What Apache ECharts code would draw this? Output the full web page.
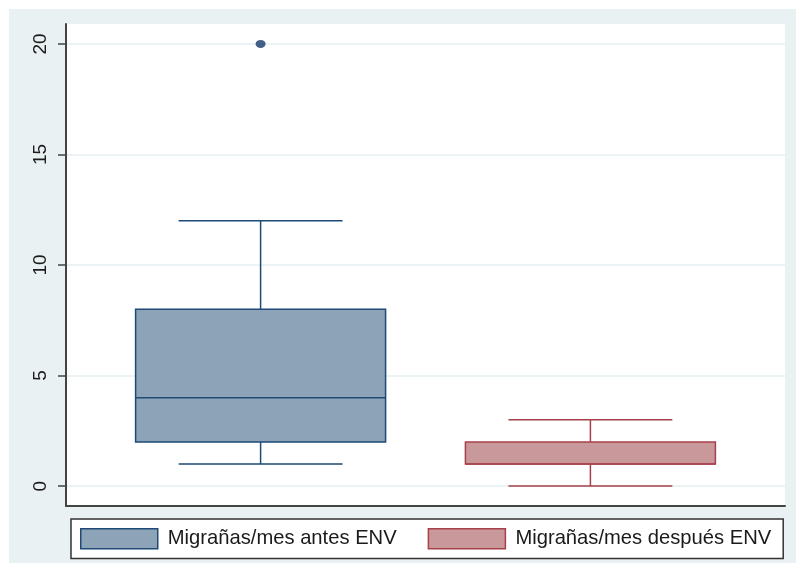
<!DOCTYPE html>
<html>
<head>
<meta charset="utf-8">
<script src="https://cdn.jsdelivr.net/npm/echarts@6/dist/echarts.min.js"></script>
<style>
	html, body { margin: 0; padding: 0; background: #fff; }
	#wrap { position: relative; width: 796px; height: 565px; background: #fff; }
	#main { position: absolute; left: 9px; top: 9px; width: 787px; height: 554px; }
</style>
</head>
<body>
<div id="wrap"><div id="main"></div></div>
<script>
	// datos
	var categories = ['Migrañas/mes antes ENV', 'Migrañas/mes después ENV'];
	var lowWhisker = [1, 0];
	var q1 = [2, 1];
	var median = [4, 1];
	var q3 = [8, 2];
	var highWhisker = [12, 3];
	var outliers = [[0, 20]];
	var yTicks = [0, 5, 10, 15, 20];

	var fills = ['#8ca3b8', '#c9989b'];
	var borders = ['#1f4a76', '#a6414c'];

	var myChart = echarts.init(document.getElementById('main'));

	function renderBox(params, api) {
		var x = api.value(0);
		var low = api.coord([x, api.value(1)]);
		var p1 = api.coord([x, api.value(2)]);
		var med = api.coord([x, api.value(3)]);
		var p3 = api.coord([x, api.value(4)]);
		var high = api.coord([x, api.value(5)]);
		var boxW = api.size([0.758, 0])[0];
		var capW = api.size([0.497, 0])[0];
		var color = borders[params.seriesIndex];
		var fill = fills[params.seriesIndex];
		var lineStyle = { stroke: color, lineWidth: 1.5, fill: null };
		return {
			type: 'group',
			children: [
				{ type: 'line', shape: { x1: high[0], y1: high[1], x2: p3[0], y2: p3[1] }, style: lineStyle },
				{ type: 'line', shape: { x1: low[0], y1: low[1], x2: p1[0], y2: p1[1] }, style: lineStyle },
				{ type: 'line', shape: { x1: high[0] - capW / 2, y1: high[1], x2: high[0] + capW / 2, y2: high[1] }, style: lineStyle },
				{ type: 'line', shape: { x1: low[0] - capW / 2, y1: low[1], x2: low[0] + capW / 2, y2: low[1] }, style: lineStyle },
				{ type: 'rect', shape: { x: p3[0] - boxW / 2, y: p3[1], width: boxW, height: p1[1] - p3[1] },
					style: { fill: fill, stroke: color, lineWidth: 1.5 } },
				{ type: 'line', shape: { x1: med[0] - boxW / 2, y1: med[1], x2: med[0] + boxW / 2, y2: med[1] }, style: lineStyle }
			]
		};
	}

	var series = categories.map(function(name, i) {
		return {
			name: name,
			type: 'custom',
			renderItem: renderBox,
			itemStyle: { color: fills[i], borderColor: borders[i] },
			data: [[i, lowWhisker[i], q1[i], median[i], q3[i], highWhisker[i]]],
			z: 3
		};
	});
	series.push({
		name: 'outliers',
		type: 'scatter',
		symbol: 'circle',
		symbolSize: [10, 8],
		itemStyle: { color: '#173a69' },
		data: outliers,
		z: 4
	});

	var option = {
		backgroundColor: '#e9f1f3',
		animation: false,
		textStyle: { fontFamily: "'Liberation Sans', Arial, sans-serif" },
		grid: {
			left: 57,
			top: 15,
			right: 11,
			bottom: 57,
			show: true,
			backgroundColor: '#ffffff',
			borderWidth: 0
		},
		legend: {
			left: 62,
			top: 510,
			padding: [9, 12, 9, 9],
			itemGap: 31,
			itemWidth: 77,
			itemHeight: 20,
			icon: 'rect',
			backgroundColor: '#ffffff',
			borderColor: '#333333',
			borderWidth: 1.5,
			textStyle: { fontSize: 20.2, color: '#1a1a1a', padding: [0, 0, 0, 5] },
			data: categories.map(function(name, i) {
				return { name: name, itemStyle: { color: fills[i], borderColor: borders[i], borderWidth: 1.5 } };
			})
		},
		xAxis: {
			type: 'value',
			min: -0.59,
			max: 1.59,
			axisLine: { show: true, onZero: false, lineStyle: { color: '#444', width: 2 } },
			axisTick: { show: false },
			axisLabel: { show: false },
			splitLine: { show: false }
		},
		yAxis: {
			type: 'value',
			min: -0.9,
			max: 20.9,
			axisLine: { show: true, onZero: false, lineStyle: { color: '#444', width: 2 } },
			axisTick: { show: true, length: 8, customValues: yTicks, lineStyle: { color: '#444', width: 1.5 } },
			axisLabel: { customValues: yTicks, rotate: 90, margin: 16, fontSize: 19, color: '#1c1c1c' },
			splitLine: { show: true, lineStyle: { color: '#e6eff1', width: 1.5 } }
		},
		series: series
	};

	myChart.setOption(option);
</script>
</body>
</html>
